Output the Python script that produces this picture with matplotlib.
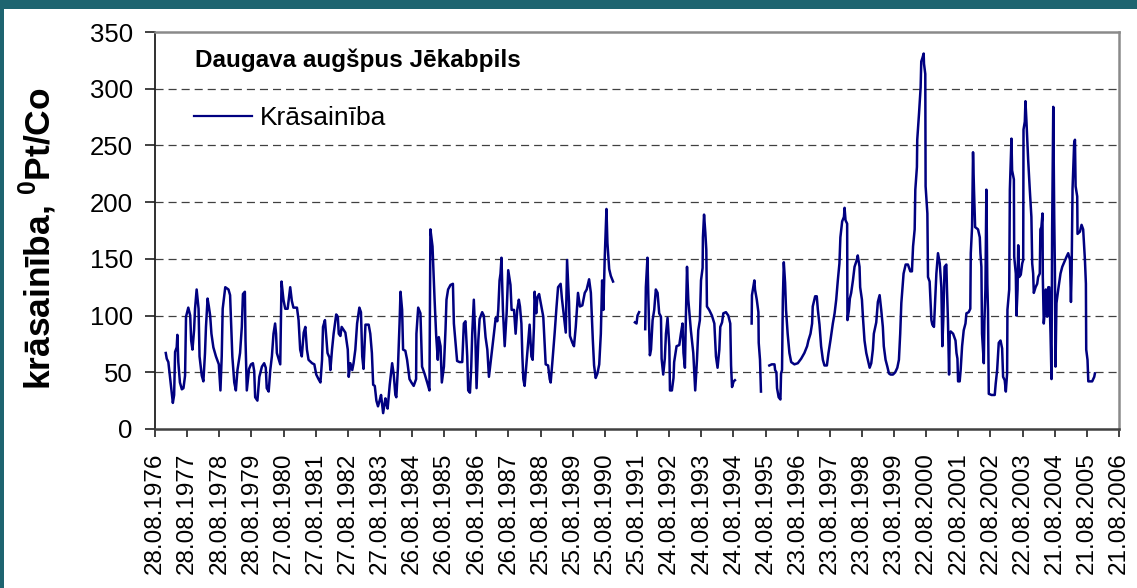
import numpy as np
import matplotlib
matplotlib.use('Agg')
import matplotlib.pyplot as plt
import matplotlib.dates as mdates
from matplotlib.patches import Rectangle
from matplotlib.lines import Line2D
from datetime import datetime, timedelta

# ---- data (decimal year, colour value) ----
seg_a_year = [1976.99, 1977.02, 1977.07, 1977.21, 1977.25, 1977.28, 1977.33, 1977.35, 1977.38, 1977.43,
              1977.49, 1977.54, 1977.59, 1977.62, 1977.69, 1977.75, 1977.78, 1977.82, 1977.87, 1977.90,
              1977.95, 1978.01, 1978.04, 1978.11, 1978.16, 1978.21, 1978.24, 1978.29, 1978.33, 1978.37,
              1978.41, 1978.47, 1978.55, 1978.64, 1978.69, 1978.73, 1978.76, 1978.84, 1978.94, 1978.99,
              1979.01, 1979.06, 1979.12, 1979.17, 1979.22, 1979.30, 1979.355, 1979.39, 1979.45, 1979.47,
              1979.51, 1979.58, 1979.64, 1979.70, 1979.74, 1979.77, 1979.84, 1979.90, 1979.98, 1980.05,
              1980.10, 1980.13, 1980.19, 1980.24, 1980.29, 1980.34, 1980.39, 1980.42, 1980.445, 1980.55,
              1980.59, 1980.65, 1980.705, 1980.78, 1980.86, 1980.91, 1980.96, 1981.07, 1981.12, 1981.17,
              1981.22, 1981.28, 1981.33, 1981.38, 1981.43, 1981.54, 1981.61, 1981.67, 1981.74, 1981.80,
              1981.85, 1981.88, 1981.94, 1981.98, 1982.02, 1982.08, 1982.11, 1982.16, 1982.21, 1982.29,
              1982.34, 1982.37, 1982.42, 1982.46, 1982.575, 1982.65, 1982.68, 1982.73, 1982.79, 1982.83,
              1982.885, 1982.94, 1983.01, 1983.06, 1983.10, 1983.14, 1983.20, 1983.30, 1983.35, 1983.40,
              1983.44, 1983.49, 1983.54, 1983.59, 1983.64, 1983.685, 1983.75, 1983.82, 1983.85, 1983.89,
              1983.955, 1984.03, 1984.08, 1984.13, 1984.16, 1984.21, 1984.26, 1984.29,
              1984.34, 1984.37, 1984.44, 1984.495, 1984.57, 1984.63, 1984.70, 1984.775, 1984.785, 1984.84,
              1984.91, 1984.96, 1985.035, 1985.12, 1985.19, 1985.22, 1985.285, 1985.35, 1985.40, 1985.45,
              1985.48, 1985.535, 1985.575, 1985.64, 1985.69, 1985.72, 1985.77, 1985.845, 1985.92, 1985.95,
              1986.00, 1986.05, 1986.125, 1986.21, 1986.26, 1986.31, 1986.365, 1986.395, 1986.45, 1986.49,
              1986.52, 1986.57, 1986.62, 1986.655, 1986.71, 1986.75, 1986.83, 1986.88, 1986.935, 1986.99,
              1987.04, 1987.09, 1987.195, 1987.25, 1987.30, 1987.33, 1987.37, 1987.40, 1987.43, 1987.475,
              1987.53, 1987.59, 1987.64, 1987.71, 1987.745, 1987.82, 1987.87, 1987.92, 1987.97, 1988.005,
              1988.05, 1988.08, 1988.11, 1988.15, 1988.19, 1988.23, 1988.265, 1988.305, 1988.36, 1988.40,
              1988.44, 1988.46, 1988.51, 1988.545, 1988.60, 1988.67, 1988.73, 1988.77, 1988.805, 1988.88,
              1988.93, 1988.96, 1989.01, 1989.085, 1989.14, 1989.19, 1989.27, 1989.31, 1989.375, 1989.43,
              1989.47, 1989.53, 1989.56, 1989.635, 1989.685, 1989.74, 1989.81, 1989.87, 1989.945, 1990.02,
              1990.08, 1990.155, 1990.21, 1990.27, 1990.31, 1990.36, 1990.415, 1990.47, 1990.52, 1990.56,
              1990.60, 1990.64, 1990.695, 1990.725, 1990.78, 1990.83, 1990.90]
seg_a_value = [67, 62, 59, 23, 30, 68, 72, 83, 59, 41,
               35, 36, 47, 99, 107, 100, 78, 70, 87, 106,
               123, 106, 64, 47, 42, 67, 90, 115, 108, 100,
               84, 72, 64, 57, 34, 64, 106, 125, 123, 118,
               102, 64, 41, 34, 52, 67, 90, 119, 121, 78,
               34, 53, 57, 58, 51, 28, 25, 46, 55, 58,
               54, 36, 33, 52, 64, 84, 93, 84, 67, 57,
               130, 114, 106, 106, 125, 113, 107, 107, 96, 70,
               64, 85, 90, 70, 61, 58, 57, 48, 44, 41,
               61, 90, 96, 81, 67, 63, 52, 70, 84, 101,
               99, 84, 82, 90, 85, 70, 46, 58, 52, 58,
               70, 93, 107, 103, 64, 53, 92, 92, 84, 67,
               39, 38, 25, 20, 25, 30, 14, 27, 22, 18,
               39, 58, 48, 30, 28, 54, 93, 121,
               105, 70, 69, 61, 44, 41, 38, 44, 84, 107,
               102, 55, 49, 41, 34, 176, 161, 114, 82, 61,
               81, 73, 41, 55, 88, 114, 123, 127, 128, 93,
               76, 60, 59, 59, 93, 95, 64, 34, 32, 55,
               84, 114, 78, 36, 78, 97, 103, 100, 81, 70,
               46, 58, 84, 98, 95, 105, 131, 137, 151, 105,
               73, 102, 140, 127, 105, 105, 84, 105, 114, 108,
               93, 64, 44, 38, 52, 67, 79, 92, 64, 61,
               90, 121, 102, 116, 119, 108, 99, 76, 57, 56,
               44, 41, 58, 85, 107, 125, 128, 115, 99, 85,
               149, 112, 82, 76, 73, 90, 120, 108, 109, 120,
               123, 132, 120, 79, 56, 45, 49, 57, 84, 131,
               105, 150, 194, 164, 141, 135, 130]

seg_b_year = [1991.58, 1991.63, 1991.66, 1991.71]
seg_b_value = [94, 93, 100, 103]

seg_c_year = [1991.90, 1991.92, 1991.97, 1992.00, 1992.045, 1992.08, 1992.13, 1992.18, 1992.23, 1992.285,
              1992.335, 1992.39, 1992.41, 1992.46, 1992.51, 1992.545, 1992.595, 1992.65, 1992.67, 1992.73,
              1992.78, 1992.80, 1992.875, 1992.96, 1993.01, 1993.06, 1993.09, 1993.135, 1993.165, 1993.20,
              1993.24, 1993.32, 1993.395, 1993.455, 1993.51, 1993.55, 1993.60, 1993.635, 1993.685, 1993.695,
              1993.73, 1993.77, 1993.80, 1993.82, 1993.89, 1993.975, 1994.05, 1994.10, 1994.15, 1994.205,
              1994.235, 1994.29, 1994.33, 1994.41, 1994.485, 1994.545, 1994.57, 1994.60, 1994.65, 1994.69]
seg_c_value = [88, 125, 151, 114, 65, 70, 96, 105, 123, 120,
               102, 99, 62, 48, 62, 84, 98, 73, 34, 34,
               45, 59, 73, 74, 84, 93, 67, 54, 99, 143,
               114, 87, 67, 34, 61, 87, 96, 131, 142, 169,
               189, 173, 158, 108, 105, 100, 93, 64, 54, 70,
               90, 94, 102, 103, 100, 93, 56, 37, 42, 43]

seg_d_year = [1995.21, 1995.22, 1995.295, 1995.315, 1995.37, 1995.42, 1995.43, 1995.47, 1995.50]
seg_d_value = [93, 118, 131, 123, 114, 103, 76, 61, 33]

seg_e_year = [1995.76, 1995.835, 1995.92, 1995.94, 1995.98, 1996.00, 1996.05, 1996.105, 1996.125, 1996.155,
              1996.18, 1996.21, 1996.25, 1996.28, 1996.33, 1996.385, 1996.44, 1996.54, 1996.645, 1996.75,
              1996.85, 1996.935, 1996.975, 1997.04, 1997.09, 1997.11, 1997.185, 1997.235, 1997.27, 1997.32,
              1997.37, 1997.425, 1997.475, 1997.55, 1997.60, 1997.66, 1997.735, 1997.79, 1997.84, 1997.89,
              1997.94, 1997.97, 1998.025, 1998.08, 1998.10, 1998.13, 1998.18, 1998.19, 1998.235, 1998.265,
              1998.305, 1998.36, 1998.41, 1998.48, 1998.51, 1998.565, 1998.585, 1998.64, 1998.67, 1998.72,
              1998.775, 1998.825, 1998.88, 1998.93, 1998.98, 1999.01, 1999.085, 1999.135, 1999.19, 1999.24,
              1999.29, 1999.32, 1999.375, 1999.43, 1999.48, 1999.53, 1999.605, 1999.675, 1999.74, 1999.79,
              1999.83, 1999.865, 1999.935, 2000.00, 2000.07, 2000.145, 2000.195, 2000.23, 2000.28, 2000.30,
              2000.35, 2000.36, 2000.415, 2000.465, 2000.485, 2000.52, 2000.56, 2000.57, 2000.61, 2000.62,
              2000.675, 2000.695, 2000.745, 2000.80, 2000.83, 2000.88, 2000.90, 2000.955, 2001.005, 2001.06,
              2001.11, 2001.14, 2001.17, 2001.21, 2001.265, 2001.285, 2001.315, 2001.35, 2001.37, 2001.40,
              2001.475, 2001.55, 2001.58, 2001.61, 2001.63, 2001.68, 2001.71, 2001.755, 2001.805, 2001.86,
              2001.89, 2001.96, 2002.01, 2002.025, 2002.065, 2002.095, 2002.125, 2002.16, 2002.25, 2002.305,
              2002.325, 2002.355, 2002.375, 2002.43, 2002.45, 2002.48, 2002.51, 2002.54, 2002.56, 2002.585,
              2002.67, 2002.77, 2002.80, 2002.845, 2002.895, 2002.95, 2003.00, 2003.03, 2003.08, 2003.115,
              2003.155, 2003.165, 2003.22, 2003.24, 2003.29, 2003.31, 2003.365, 2003.375, 2003.425, 2003.445,
              2003.48, 2003.50, 2003.53, 2003.58, 2003.625, 2003.655, 2003.665, 2003.705, 2003.725, 2003.755,
              2003.81, 2003.86, 2003.91, 2003.935, 2003.965, 2003.985, 2004.04, 2004.09, 2004.12, 2004.17,
              2004.19, 2004.22, 2004.255, 2004.265, 2004.295, 2004.33, 2004.36, 2004.40, 2004.435, 2004.465,
              2004.505, 2004.535, 2004.555, 2004.59, 2004.62, 2004.64, 2004.66, 2004.69, 2004.745, 2004.815,
              2004.87, 2004.93, 2005.005, 2005.055, 2005.11, 2005.14, 2005.16, 2005.19, 2005.24, 2005.265,
              2005.285, 2005.335, 2005.345, 2005.42, 2005.47, 2005.52, 2005.575, 2005.605, 2005.615, 2005.655,
              2005.68, 2005.73, 2005.80, 2005.865, 2005.885]
seg_e_value = [56, 57, 57, 52, 50, 36, 28, 26, 49, 52,
               114, 147, 129, 105, 84, 67, 59, 57, 58, 62,
               67, 73, 78, 84, 93, 108, 117, 117, 105, 92,
               73, 61, 56, 56, 67, 78, 93, 102, 114, 131,
               146, 169, 183, 187, 195, 184, 181, 96, 105, 115,
               120, 131, 143, 149, 153, 143, 125, 114, 99, 78,
               67, 61, 54, 58, 70, 84, 94, 112, 118, 105,
               90, 73, 61, 55, 49, 48, 48, 50, 54, 61,
               84, 111, 137, 145, 145, 139, 139, 161, 176, 211,
               231, 255, 278, 301, 324, 327, 331, 322, 313, 214,
               190, 134, 130, 96, 92, 90, 103, 137, 155, 146,
               125, 73, 96, 143, 145, 123, 96, 48, 84, 86,
               84, 78, 67, 62, 42, 42, 52, 73, 87, 93,
               102, 103, 106, 155, 178, 244, 211, 178, 176, 169,
               155, 143, 84, 58, 96, 123, 211, 128, 105, 31,
               30, 30, 40, 52, 76, 78, 71, 46, 43, 33,
               49, 105, 123, 211, 256, 228, 220, 152, 137, 100,
               123, 162, 134, 136, 146, 149, 264, 271, 289, 272,
               237, 211, 187, 146, 137, 120, 125, 128, 134, 137,
               176, 178, 190, 134, 93, 105, 123, 99, 125, 125,
               84, 44, 176, 284, 187, 143, 55, 111, 123, 137,
               143, 147, 152, 155, 149, 112, 137, 212, 252, 255,
               214, 205, 172, 174, 180, 176, 149, 128, 70, 61,
               42, 42, 42, 46, 49]

segments = [(seg_a_year, seg_a_value), (seg_b_year, seg_b_value), (seg_c_year, seg_c_value),
            (seg_d_year, seg_d_value), (seg_e_year, seg_e_value)]

series_label = 'Krāsainība'
chart_title = 'Daugava augšpus Jēkabpils'
y_label = r'krāsainība, $^{\mathbf{0}}$Pt/Co'
y_ticks = [0, 50, 100, 150, 200, 250, 300, 350]
tick_start = datetime(1976, 8, 28)
tick_dates = [tick_start + timedelta(days=365 * k) for k in range(31)]
tick_labels = [d.strftime('%d.%m.%Y') for d in tick_dates]

# ---- style ----
plt.rcParams['font.family'] = ['Liberation Sans', 'DejaVu Sans']
plt.rcParams['mathtext.fontset'] = 'custom'
plt.rcParams['mathtext.rm'] = 'Liberation Sans'
plt.rcParams['mathtext.bf'] = 'Liberation Sans:bold'
plt.rcParams['lines.scale_dashes'] = False

W, H = 1137, 588
fig = plt.figure(figsize=(W / 100, H / 100), dpi=100)
fig.patch.set_facecolor('white')

ax = fig.add_axes([155 / W, 1 - 429 / H, (1119 - 155) / W, (429 - 32) / H])
ax.set_facecolor('white')

base = mdates.date2num(tick_start)


def to_num(years):
    return base + (np.asarray(years, dtype=float) - 1976.655) * 365.25


line_color = '#000080'
for i, (yrs, vals) in enumerate(segments):
    ax.plot(to_num(yrs), vals, color=line_color, lw=1.8, solid_joinstyle='round', zorder=3)

ax.set_xlim(mdates.date2num(tick_dates[0]), mdates.date2num(tick_dates[-1]))
ax.set_ylim(0, 350)

for v in y_ticks[1:-1]:
    ax.axhline(v, color='#404040', lw=0.9, dashes=(5.8, 3.6), zorder=1)

ax.set_yticks(y_ticks)
ax.set_xticks(mdates.date2num(tick_dates))
ax.set_xticklabels(tick_labels, rotation=90, fontsize=17.5)
ax.tick_params(axis='y', direction='out', length=7, width=1.2, labelsize=18.5, pad=9, color='#202020')
ax.tick_params(axis='x', direction='out', length=6, width=1.2, pad=11, color='#202020')

ax.spines['left'].set_color('#202020')
ax.spines['left'].set_linewidth(1.3)
ax.spines['bottom'].set_color('#404040')
ax.spines['bottom'].set_linewidth(1.8)
for s in ('top', 'right'):
    ax.spines[s].set_color('#8a8a8a')
    ax.spines[s].set_linewidth(1.8)

fig.text(195 / W, 1 - 67 / H, chart_title, fontsize=17.5, fontweight='bold', va='baseline')

handle = Line2D([], [], color=line_color, lw=1.6)
ax.legend([handle], [series_label], loc='upper left', bbox_to_anchor=(194 / W, 1 - 106 / H),
          bbox_transform=fig.transFigure, frameon=False, borderpad=0, borderaxespad=0,
          handlelength=2.2, handletextpad=0.28, fontsize=19)

fig.text(38 / W, 1 - 239 / H, y_label, rotation=90, fontsize=25.5, fontweight='bold',
         ha='center', va='center')

teal = '#1e6470'
fig.add_artist(Rectangle((0, 1 - 9 / H), 1, 9 / H, transform=fig.transFigure, color=teal, lw=0))
fig.add_artist(Rectangle((0, 0), 4 / W, 1, transform=fig.transFigure, color=teal, lw=0))

fig.savefig('out.png', dpi=100, facecolor='white')
